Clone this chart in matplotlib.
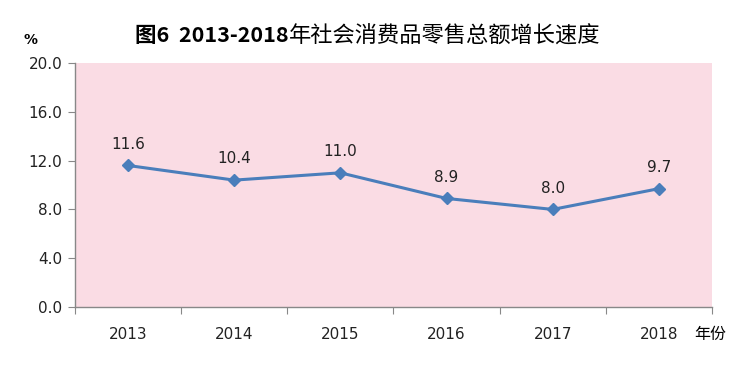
import matplotlib.pyplot as plt

plt.rcParams["font.family"] = ["DejaVu Sans", "Noto Sans CJK SC"]

years = ["2013", "2014", "2015", "2016", "2017", "2018"]
growth = [11.6, 10.4, 11.0, 8.9, 8.0, 9.7]
yticks = [0.0, 4.0, 8.0, 12.0, 16.0, 20.0]

fig = plt.figure(figsize=(7.38, 3.66), dpi=100)
ax = fig.add_axes([0.1016, 0.161, 0.863, 0.667])
ax.set_facecolor("#FADCE4")

x = list(range(len(years)))
ax.plot(x, growth, color="#4A7EBB", linewidth=2.2, marker="D", markersize=6,
        markerfacecolor="#4A7EBB", markeredgecolor="#4A7EBB")
for xi, v in zip(x, growth):
    ax.annotate(f"{v:.1f}", (xi, v), xytext=(0, 10), textcoords="offset points",
                ha="center", va="bottom", fontsize=11, color="#222222")

ax.set_xlim(-0.5, len(years) - 0.5)
ax.set_ylim(0, 20)
ax.set_yticks(yticks)
ax.set_yticklabels([f"{t:.1f}" for t in yticks], fontsize=11, color="#222222")

ax.set_xticks([i - 0.5 for i in range(len(years) + 1)])
ax.set_xticklabels([])
ax.set_xticks(x, minor=True)
ax.set_xticklabels(years, minor=True, fontsize=11, color="#222222")
ax.tick_params(axis="x", which="major", length=5, color="#888888", direction="out")
ax.tick_params(axis="x", which="minor", length=0, pad=14)
ax.tick_params(axis="y", length=5, color="#888888", direction="out", pad=4)

for side in ["top", "right"]:
    ax.spines[side].set_visible(False)
for side in ["left", "bottom"]:
    ax.spines[side].set_color("#888888")
    ax.spines[side].set_linewidth(1.0)

# 标题：数字部分加粗，中文部分常规
fig.text(0.391, 0.902, "图6  2013-2018", ha="right", va="center", fontsize=15.5,
         fontweight="bold", family=["Noto Sans CJK SC"])
fig.text(0.392, 0.902, "年社会消费品零售总额增长速度", ha="left", va="center",
         fontsize=16, fontweight="medium", family=["Noto Sans CJK SC"])
fig.text(0.041, 0.89, "%", ha="center", va="center", fontsize=10, fontweight="bold")
fig.text(0.963, 0.087, "年份", ha="center", va="center", fontsize=11.5,
         fontweight="medium", family=["Noto Sans CJK SC"])

fig.savefig("out.png", dpi=100)
